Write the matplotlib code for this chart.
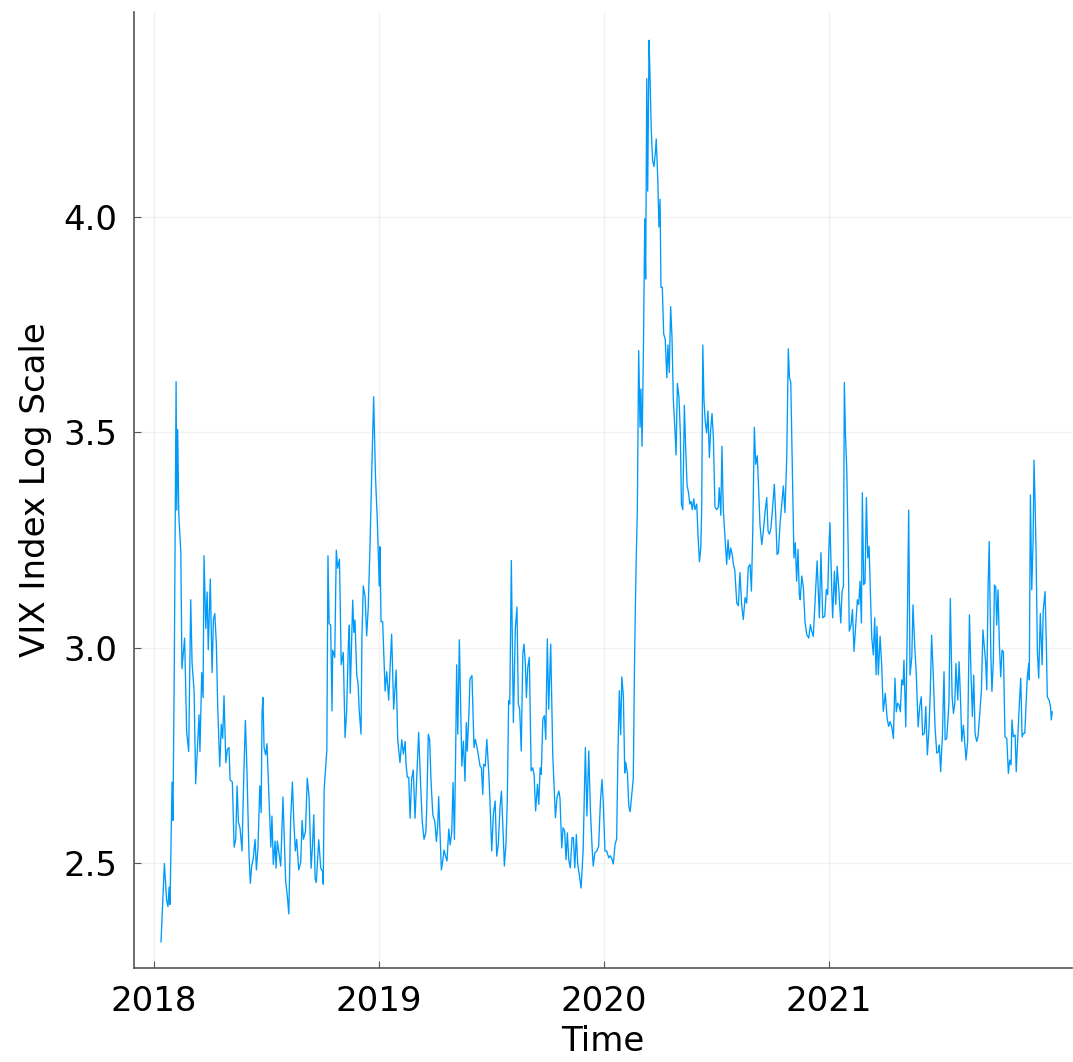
import matplotlib.pyplot as plt

# time in decimal years, VIX log value
t = [
    2018.031, 2018.046, 2018.056, 2018.062, 2018.067, 2018.071, 2018.080, 2018.084, 2018.090, 2018.098,
    2018.101, 2018.105, 2018.110, 2018.119, 2018.124, 2018.136, 2018.145, 2018.154, 2018.163, 2018.169,
    2018.178, 2018.185, 2018.200, 2018.204, 2018.212, 2018.218, 2018.222, 2018.230, 2018.236, 2018.241,
    2018.250, 2018.258, 2018.264, 2018.270, 2018.277, 2018.283, 2018.292, 2018.299, 2018.305, 2018.311,
    2018.319, 2018.326, 2018.333, 2018.338, 2018.348, 2018.356, 2018.363, 2018.369, 2018.375, 2018.382,
    2018.391, 2018.399, 2018.406, 2018.412, 2018.422, 2018.428, 2018.434, 2018.441, 2018.449, 2018.455,
    2018.462, 2018.470, 2018.476, 2018.480, 2018.484, 2018.489, 2018.496, 2018.502, 2018.510, 2018.519,
    2018.524, 2018.530, 2018.538, 2018.542, 2018.548, 2018.554, 2018.563, 2018.573, 2018.579, 2018.585,
    2018.591, 2018.599, 2018.607, 2018.615, 2018.621, 2018.628, 2018.634, 2018.643, 2018.652, 2018.658,
    2018.664, 2018.673, 2018.681, 2018.689, 2018.698, 2018.704, 2018.710, 2018.716, 2018.721, 2018.732,
    2018.741, 2018.750, 2018.752, 2018.756, 2018.768, 2018.773, 2018.778, 2018.785, 2018.791, 2018.794,
    2018.803, 2018.810, 2018.816, 2018.824, 2018.832, 2018.841, 2018.849, 2018.856, 2018.864, 2018.868,
    2018.872, 2018.883, 2018.888, 2018.893, 2018.901, 2018.907, 2018.912, 2018.920, 2018.924, 2018.930,
    2018.938, 2018.945, 2018.952, 2018.960, 2018.968, 2018.976, 2018.984, 2018.992, 2019.001, 2019.004,
    2019.009, 2019.016, 2019.027, 2019.034, 2019.043, 2019.049, 2019.056, 2019.065, 2019.076, 2019.083,
    2019.093, 2019.101, 2019.108, 2019.116, 2019.120, 2019.126, 2019.132, 2019.138, 2019.145, 2019.152,
    2019.160, 2019.168, 2019.176, 2019.185, 2019.192, 2019.200, 2019.208, 2019.212, 2019.219, 2019.225,
    2019.231, 2019.239, 2019.248, 2019.255, 2019.261, 2019.265, 2019.271, 2019.277, 2019.283, 2019.289,
    2019.295, 2019.302, 2019.310, 2019.316, 2019.323, 2019.329, 2019.335, 2019.341, 2019.345, 2019.350,
    2019.357, 2019.368, 2019.375, 2019.382, 2019.388, 2019.392, 2019.400, 2019.404, 2019.413, 2019.422,
    2019.428, 2019.437, 2019.449, 2019.455, 2019.461, 2019.465, 2019.472, 2019.479, 2019.488, 2019.493,
    2019.501, 2019.508, 2019.516, 2019.523, 2019.530, 2019.538, 2019.544, 2019.550, 2019.557, 2019.564,
    2019.570, 2019.576, 2019.581, 2019.588, 2019.597, 2019.606, 2019.613, 2019.619, 2019.625, 2019.632,
    2019.639, 2019.644, 2019.650, 2019.655, 2019.661, 2019.668, 2019.676, 2019.683, 2019.689, 2019.696,
    2019.704, 2019.710, 2019.716, 2019.721, 2019.728, 2019.735, 2019.741, 2019.748, 2019.754, 2019.763,
    2019.772, 2019.784, 2019.791, 2019.799, 2019.804, 2019.812, 2019.818, 2019.825, 2019.831, 2019.837,
    2019.843, 2019.850, 2019.858, 2019.864, 2019.870, 2019.877, 2019.883, 2019.890, 2019.898, 2019.907,
    2019.917, 2019.924, 2019.932, 2019.939, 2019.947, 2019.952, 2019.959, 2019.968, 2019.976, 2019.984,
    2019.991, 2019.997, 2020.004, 2020.012, 2020.021, 2020.027, 2020.034, 2020.041, 2020.049, 2020.056,
    2020.062, 2020.068, 2020.074, 2020.079, 2020.086, 2020.092, 2020.096, 2020.104, 2020.110, 2020.116,
    2020.123, 2020.130, 2020.136, 2020.142, 2020.148, 2020.154, 2020.160, 2020.164, 2020.169, 2020.175,
    2020.181, 2020.185, 2020.190, 2020.194, 2020.200, 2020.204, 2020.210, 2020.216, 2020.222, 2020.228,
    2020.232, 2020.239, 2020.244, 2020.249, 2020.253, 2020.259, 2020.265, 2020.272, 2020.279, 2020.284,
    2020.290, 2020.296, 2020.302, 2020.308, 2020.314, 2020.320, 2020.326, 2020.333, 2020.339, 2020.344,
    2020.350, 2020.357, 2020.363, 2020.369, 2020.376, 2020.381, 2020.387, 2020.392, 2020.399, 2020.404,
    2020.412, 2020.418, 2020.424, 2020.430, 2020.434, 2020.439, 2020.444, 2020.450, 2020.456, 2020.462,
    2020.468, 2020.474, 2020.480, 2020.486, 2020.493, 2020.501, 2020.508, 2020.512, 2020.519, 2020.524,
    2020.530, 2020.538, 2020.545, 2020.551, 2020.557, 2020.563, 2020.569, 2020.575, 2020.581, 2020.590,
    2020.597, 2020.604, 2020.612, 2020.619, 2020.627, 2020.634, 2020.641, 2020.649, 2020.655, 2020.661,
    2020.668, 2020.674, 2020.681, 2020.688, 2020.693, 2020.701, 2020.708, 2020.716, 2020.723, 2020.729,
    2020.735, 2020.742, 2020.748, 2020.757, 2020.763, 2020.769, 2020.775, 2020.782, 2020.790, 2020.797,
    2020.804, 2020.812, 2020.819, 2020.824, 2020.830, 2020.837, 2020.844, 2020.850, 2020.856, 2020.862,
    2020.868, 2020.872, 2020.879, 2020.886, 2020.893, 2020.901, 2020.910, 2020.917, 2020.923, 2020.930,
    2020.938, 2020.947, 2020.951, 2020.957, 2020.964, 2020.972, 2020.981, 2020.988, 2020.994, 2020.999,
    2021.004, 2021.012, 2021.016, 2021.024, 2021.030, 2021.036, 2021.043, 2021.052, 2021.058, 2021.064,
    2021.068, 2021.073, 2021.079, 2021.085, 2021.090, 2021.098, 2021.104, 2021.111, 2021.119, 2021.126,
    2021.132, 2021.138, 2021.144, 2021.148, 2021.154, 2021.160, 2021.166, 2021.172, 2021.178, 2021.184,
    2021.190, 2021.197, 2021.203, 2021.209, 2021.213, 2021.219, 2021.227, 2021.234, 2021.241, 2021.250,
    2021.258, 2021.265, 2021.271, 2021.279, 2021.286, 2021.293, 2021.299, 2021.305, 2021.311, 2021.317,
    2021.323, 2021.329, 2021.333, 2021.341, 2021.348, 2021.354, 2021.360, 2021.368, 2021.373, 2021.381,
    2021.388, 2021.396, 2021.403, 2021.410, 2021.416, 2021.424, 2021.430, 2021.437, 2021.444, 2021.450,
    2021.456, 2021.464, 2021.471, 2021.479, 2021.486, 2021.490, 2021.496, 2021.504, 2021.511, 2021.516,
    2021.523, 2021.529, 2021.533, 2021.539, 2021.547, 2021.553, 2021.559, 2021.564, 2021.572, 2021.578,
    2021.584, 2021.590, 2021.597, 2021.603, 2021.609, 2021.616, 2021.624, 2021.631, 2021.637, 2021.643,
    2021.649, 2021.656, 2021.662, 2021.670, 2021.677, 2021.684, 2021.690, 2021.696, 2021.701, 2021.707,
    2021.712, 2021.719, 2021.724, 2021.730, 2021.735, 2021.741, 2021.745, 2021.751, 2021.757, 2021.763,
    2021.769, 2021.775, 2021.782, 2021.790, 2021.797, 2021.803, 2021.809, 2021.813, 2021.819, 2021.827,
    2021.832, 2021.840, 2021.846, 2021.852, 2021.858, 2021.864, 2021.870, 2021.876, 2021.881, 2021.888,
    2021.890, 2021.895, 2021.901, 2021.907, 2021.911, 2021.916, 2021.920, 2021.926, 2021.932, 2021.939,
    2021.947, 2021.952, 2021.960, 2021.966, 2021.970, 2021.978, 2021.984, 2021.988, 2021.992,
]

vix_log = [
    2.318, 2.500, 2.414, 2.400, 2.445, 2.405, 2.689, 2.600, 2.956, 3.618,
    3.320, 3.507, 3.310, 3.223, 2.952, 3.023, 2.805, 2.760, 3.112, 2.965,
    2.900, 2.685, 2.845, 2.760, 2.943, 2.885, 3.214, 3.045, 3.130, 2.996,
    3.160, 2.943, 3.067, 3.080, 3.009, 2.863, 2.725, 2.823, 2.790, 2.889,
    2.734, 2.765, 2.769, 2.694, 2.689, 2.538, 2.556, 2.680, 2.596, 2.583,
    2.529, 2.707, 2.832, 2.734, 2.520, 2.454, 2.494, 2.512, 2.556, 2.485,
    2.538, 2.680, 2.618, 2.850, 2.885, 2.769, 2.752, 2.778, 2.663, 2.538,
    2.610, 2.498, 2.552, 2.489, 2.552, 2.529, 2.494, 2.654, 2.556, 2.458,
    2.432, 2.383, 2.600, 2.689, 2.600, 2.529, 2.556, 2.485, 2.503, 2.600,
    2.556, 2.574, 2.698, 2.655, 2.489, 2.539, 2.613, 2.464, 2.456, 2.555,
    2.489, 2.481, 2.452, 2.672, 2.763, 3.214, 3.057, 3.053, 2.854, 2.995,
    2.978, 3.227, 3.185, 3.206, 2.961, 2.990, 2.792, 2.854, 3.015, 3.053,
    2.895, 3.111, 3.036, 3.065, 2.937, 2.916, 2.854, 2.800, 3.028, 3.144,
    3.119, 3.028, 3.094, 3.239, 3.417, 3.583, 3.400, 3.300, 3.144, 3.235,
    3.061, 3.061, 2.900, 2.945, 2.879, 2.953, 3.032, 2.858, 2.949, 2.787,
    2.734, 2.787, 2.754, 2.783, 2.729, 2.700, 2.700, 2.605, 2.696, 2.717,
    2.605, 2.705, 2.804, 2.680, 2.597, 2.556, 2.572, 2.630, 2.800, 2.787,
    2.692, 2.613, 2.597, 2.551, 2.589, 2.655, 2.572, 2.485, 2.506, 2.531,
    2.518, 2.506, 2.580, 2.543, 2.572, 2.688, 2.556, 2.779, 2.961, 2.800,
    3.019, 2.726, 2.784, 2.691, 2.827, 2.761, 2.854, 2.928, 2.936, 2.769,
    2.788, 2.765, 2.726, 2.722, 2.660, 2.730, 2.726, 2.788, 2.707, 2.645,
    2.529, 2.614, 2.645, 2.517, 2.544, 2.633, 2.668, 2.591, 2.494, 2.544,
    2.645, 2.878, 2.870, 3.203, 2.827, 3.048, 3.095, 2.870, 2.858, 2.761,
    2.986, 3.009, 2.967, 2.885, 2.955, 2.978, 2.715, 2.722, 2.707, 2.622,
    2.684, 2.637, 2.722, 2.707, 2.835, 2.843, 2.788, 3.021, 2.858, 3.009,
    2.753, 2.606, 2.653, 2.668, 2.653, 2.536, 2.583, 2.575, 2.509, 2.571,
    2.509, 2.490, 2.560, 2.560, 2.490, 2.567, 2.498, 2.474, 2.443, 2.529,
    2.769, 2.610, 2.761, 2.629, 2.536, 2.494, 2.525, 2.529, 2.540, 2.645,
    2.695, 2.637, 2.529, 2.529, 2.513, 2.518, 2.512, 2.499, 2.544, 2.557,
    2.761, 2.901, 2.799, 2.933, 2.888, 2.710, 2.735, 2.710, 2.633, 2.620,
    2.659, 2.697, 2.990, 3.181, 3.321, 3.690, 3.512, 3.601, 3.468, 3.690,
    3.996, 3.856, 4.321, 4.060, 4.410, 4.334, 4.200, 4.130, 4.117, 4.149,
    4.181, 4.085, 3.977, 4.041, 3.837, 3.837, 3.729, 3.716, 3.627, 3.703,
    3.639, 3.792, 3.722, 3.576, 3.518, 3.448, 3.614, 3.582, 3.499, 3.334,
    3.321, 3.563, 3.461, 3.378, 3.359, 3.334, 3.340, 3.321, 3.346, 3.321,
    3.334, 3.257, 3.200, 3.232, 3.321, 3.703, 3.576, 3.525, 3.499, 3.550,
    3.442, 3.506, 3.544, 3.487, 3.327, 3.321, 3.327, 3.372, 3.308, 3.468,
    3.321, 3.251, 3.194, 3.251, 3.206, 3.232, 3.219, 3.194, 3.181, 3.104,
    3.098, 3.175, 3.098, 3.066, 3.117, 3.104, 3.187, 3.194, 3.132, 3.271,
    3.512, 3.426, 3.446, 3.357, 3.287, 3.240, 3.271, 3.318, 3.349, 3.271,
    3.264, 3.279, 3.318, 3.380, 3.306, 3.217, 3.221, 3.287, 3.333, 3.376,
    3.314, 3.442, 3.694, 3.628, 3.616, 3.411, 3.209, 3.244, 3.155, 3.229,
    3.124, 3.112, 3.167, 3.140, 3.062, 3.031, 3.023, 3.054, 3.039, 3.027,
    3.109, 3.202, 3.147, 3.070, 3.221, 3.070, 3.074, 3.136, 3.124, 3.225,
    3.291, 3.136, 3.070, 3.178, 3.101, 3.190, 3.140, 3.058, 3.132, 3.143,
    3.616, 3.496, 3.411, 3.233, 3.039, 3.054, 3.089, 2.992, 3.054, 3.112,
    3.101, 3.155, 3.058, 3.360, 3.147, 3.151, 3.349, 3.209, 3.236, 3.124,
    3.023, 2.984, 3.070, 2.938, 3.050, 2.938, 3.027, 2.961, 2.853, 2.895,
    2.837, 2.818, 2.829, 2.817, 2.790, 2.930, 2.852, 2.872, 2.868, 2.852,
    2.926, 2.914, 2.972, 2.817, 3.057, 3.320, 2.937, 2.980, 3.100, 3.003,
    2.937, 2.817, 2.864, 2.887, 2.798, 2.802, 2.864, 2.752, 2.810, 2.899,
    3.030, 2.926, 2.817, 2.756, 2.759, 2.775, 2.713, 2.798, 2.945, 2.787,
    2.790, 2.841, 2.872, 3.115, 2.887, 2.848, 2.872, 2.964, 2.879, 2.968,
    2.887, 2.783, 2.821, 2.779, 2.740, 2.783, 3.077, 2.941, 2.841, 2.937,
    2.802, 2.783, 2.794, 2.848, 2.899, 3.042, 3.003, 2.968, 2.903, 3.142,
    3.247, 2.988, 2.899, 2.968, 3.146, 3.142, 3.053, 3.135, 3.011, 2.933,
    2.995, 2.991, 2.794, 2.790, 2.709, 2.740, 2.729, 2.833, 2.794, 2.798,
    2.713, 2.806, 2.872, 2.930, 2.794, 2.802, 2.802, 2.872, 2.933, 2.964,
    2.926, 3.355, 3.135, 3.251, 3.436, 3.332, 3.227, 2.991, 2.930, 3.080,
    2.961, 3.088, 3.131, 3.003, 2.887, 2.879, 2.864, 2.833, 2.852,
]

year_ticks = [2018, 2019, 2020, 2021]
value_ticks = [2.5, 3.0, 3.5, 4.0]

fig = plt.figure(figsize=(10.73, 10.62), dpi=100)
ax = fig.add_axes([0.1249, 0.0885, 0.8742, 0.9002])

ax.plot(t, vix_log, color="#009AFA", linewidth=0.95)

ax.set_xlim(2017.911, 2022.08)
ax.set_ylim(2.2575, 4.4756)
ax.set_xticks(year_ticks)
ax.set_xticklabels([str(y) for y in year_ticks])
ax.set_yticks(value_ticks)
ax.set_yticklabels([f"{v:.1f}" for v in value_ticks])

ax.grid(True, color="black", alpha=0.05, linewidth=1.0)
for side in ["top", "right"]:
    ax.spines[side].set_visible(False)
for side in ["left", "bottom"]:
    ax.spines[side].set_color("#555555")
    ax.spines[side].set_linewidth(1.2)

ax.tick_params(direction="in", length=5, width=0.8, color="#555555",
               labelsize=24.5, pad=12)
ax.set_xlabel("Time", fontsize=24.5, labelpad=5)
ax.set_ylabel("VIX Index Log Scale", fontsize=24.5, labelpad=8)

fig.savefig("out.png", dpi=100)
